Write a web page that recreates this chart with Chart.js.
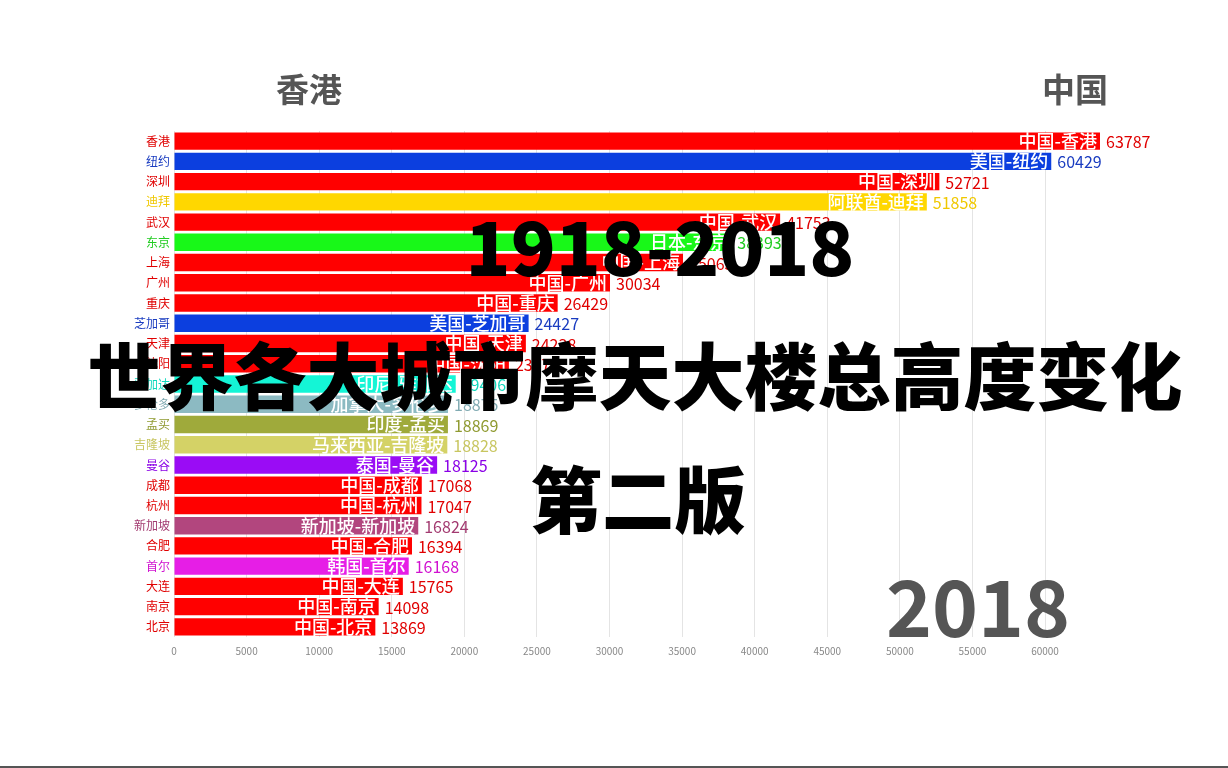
<!DOCTYPE html>
<html>
<head>
<meta charset="utf-8">
<script src="https://cdn.jsdelivr.net/npm/chart.js@4.4.0/dist/chart.umd.min.js"></script>
<style>
  html, body { margin: 0; padding: 0; background: #fff; }
  #wrap { position: relative; width: 1228px; height: 768px; overflow: hidden; border-bottom: 2px solid #555; box-sizing: border-box; }
  #chart { position: absolute; left: 0; top: 0; }
  .txt { position: absolute; font-family: "Noto Sans CJK SC", sans-serif; white-space: nowrap; transform: translate(-50%, -50%); }
  .gray { color: #555; font-weight: 700; }
  .big { color: #000; font-weight: 900; }
</style>
</head>
<body>
<div id="wrap">
  <canvas id="chart" width="1228" height="766"></canvas>
  <div class="txt gray" style="left:309px; top:88px; font-size:33px;">香港</div>
  <div class="txt gray" style="left:1075px; top:88px; font-size:33px;">中国</div>
  <div class="txt gray" style="left:978px; top:603px; font-size:78px;">2018</div>
  <div class="txt big" style="left:660px; top:243px; font-size:74px;">1918-2018</div>
  <div class="txt big" style="left:635px; top:372px; font-size:73px;">世界各大城市摩天大楼总高度变化</div>
  <div class="txt big" style="left:638px; top:495px; font-size:72px;">第二版</div>
</div>
<script>
// 2018 snapshot, sorted from tallest total
const cities = ['香港', '纽约', '深圳', '迪拜', '武汉', '东京', '上海', '广州', '重庆', '芝加哥',
  '天津', '沈阳', '雅加达', '多伦多', '孟买', '吉隆坡', '曼谷', '成都', '杭州', '新加坡',
  '合肥', '首尔', '大连', '南京', '北京'];
const countries = ['中国', '美国', '中国', '阿联酋', '中国', '日本', '中国', '中国', '中国', '美国',
  '中国', '中国', '印尼', '加拿大', '印度', '马来西亚', '泰国', '中国', '中国', '新加坡',
  '中国', '韩国', '中国', '中国', '中国'];
const heights = [63787, 60429, 52721, 51858, 41753, 38393, 35063, 30034, 26429, 24427,
  24238, 23070, 19406, 18875, 18869, 18828, 18125, 17068, 17047, 16824,
  16394, 16168, 15765, 14098, 13869];
const xTicks = [0, 5000, 10000, 15000, 20000, 25000, 30000, 35000, 40000, 45000, 50000, 55000, 60000];

const RED = '#ff0000';
const barColors = [RED, '#0c3fdf', RED, '#ffd700', RED, '#18f818', RED, RED, RED, '#0c3fdf',
  RED, RED, '#14f5d6', '#8cbac2', '#9faa3b', '#d4d266', '#9a0cf5', RED, RED, '#b2467e',
  RED, '#e61ee6', RED, RED, RED];
const textColors = ['#e00000', '#1a3cc0', '#e00000', '#f0c800', '#e00000', '#22cc22', '#e00000', '#e00000', '#e00000', '#1a3cc0',
  '#e00000', '#e00000', '#10d8bc', '#80aab2', '#8f9a30', '#c8c660', '#8a00e6', '#e00000', '#e00000', '#a23a70',
  '#e00000', '#d010d0', '#e00000', '#e00000', '#e00000'];

const barLabels = {
  id: 'barLabels',
  afterDatasetsDraw(chart) {
    const ctx = chart.ctx;
    const meta = chart.getDatasetMeta(0);
    ctx.save();
    ctx.textBaseline = 'middle';
    meta.data.forEach((bar, i) => {
      ctx.font = '500 18px "Noto Sans CJK SC", sans-serif';
      ctx.textAlign = 'right';
      ctx.fillStyle = '#fff';
      ctx.fillText(countries[i] + '-' + cities[i], bar.x - 3, bar.y);
      ctx.font = '16px "Noto Sans CJK SC", sans-serif';
      ctx.textAlign = 'left';
      ctx.fillStyle = textColors[i];
      ctx.fillText(heights[i], bar.x + 6, bar.y + 1);
    });
    ctx.restore();
  }
};

new Chart(document.getElementById('chart'), {
  type: 'bar',
  data: {
    labels: cities,
    datasets: [{
      data: heights,
      backgroundColor: barColors,
      borderWidth: 0,
      barPercentage: 0.86,
      categoryPercentage: 1
    }]
  },
  options: {
    indexAxis: 'y',
    responsive: false,
    animation: false,
    layout: { padding: { top: 131, right: 128, bottom: 104, left: 0 } },
    plugins: { legend: { display: false }, tooltip: { enabled: false } },
    scales: {
      x: {
        min: 0,
        max: 63787,
        afterFit(axis) { axis.height = 25; },
        afterBuildTicks(axis) {
          axis.ticks = xTicks.map(v => ({ value: v }));
        },
        border: { display: false },
        grid: { color: '#e4e4e4', drawTicks: false },
        ticks: {
          color: '#888',
          padding: 8,
          font: { size: 10, family: 'Noto Sans CJK SC' },
          callback: v => String(v)
        }
      },
      y: {
        afterFit(axis) { axis.width = 174; },
        border: { display: false },
        grid: { display: false, drawTicks: false },
        ticks: {
          padding: 4,
          color: textColors,
          font: { size: 12, family: 'Noto Sans CJK SC' }
        }
      }
    }
  },
  plugins: [barLabels]
});
</script>
</body>
</html>
